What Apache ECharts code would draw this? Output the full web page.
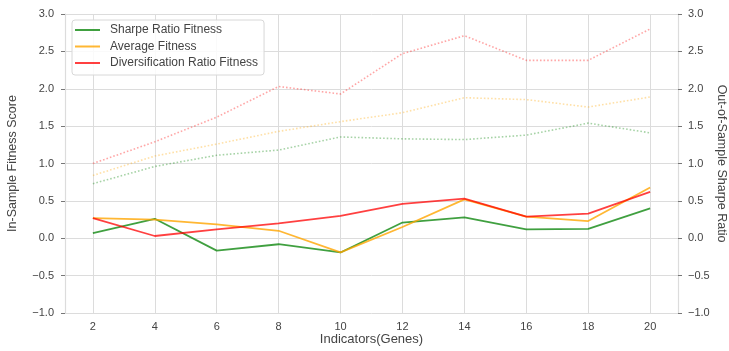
<!DOCTYPE html>
<html>
<head>
<meta charset="utf-8">
<script src="https://cdn.jsdelivr.net/npm/echarts@6/dist/echarts.min.js"></script>
<style>
html,body{margin:0;padding:0;background:#fff;}
#c{width:729px;height:351px;}
</style>
</head>
<body>
<div id="c"></div>
<script>
const genes = [2, 4, 6, 8, 10, 12, 14, 16, 18, 20];
const yTicks = [-1.0, -0.5, 0.0, 0.5, 1.0, 1.5, 2.0, 2.5, 3.0];

const sharpeIn = [0.07, 0.26, -0.165, -0.08, -0.19, 0.21, 0.28, 0.12, 0.125, 0.40];
const averageIn = [0.27, 0.25, 0.185, 0.10, -0.19, 0.15, 0.52, 0.29, 0.23, 0.68];
const diverIn = [0.27, 0.03, 0.12, 0.20, 0.30, 0.46, 0.53, 0.29, 0.33, 0.62];

const sharpeOut = [0.73, 0.96, 1.11, 1.18, 1.355, 1.33, 1.32, 1.38, 1.54, 1.41];
const averageOut = [0.84, 1.10, 1.26, 1.43, 1.56, 1.68, 1.88, 1.855, 1.755, 1.89];
const diverOut = [1.00, 1.29, 1.62, 2.03, 1.93, 2.47, 2.71, 2.38, 2.38, 2.80];

const GREEN = 'rgba(0,128,0,0.75)';
const ORANGE = 'rgba(255,165,0,0.8)';
const RED = 'rgba(255,0,0,0.75)';
const GREEN_D = 'rgba(0,128,0,0.35)';
const ORANGE_D = 'rgba(255,165,0,0.35)';
const RED_D = 'rgba(255,0,0,0.35)';

const FONT = '"Liberation Sans", Arial, sans-serif';
const TXT = '#444';
const GRID = '#dcdcdc';

function pairs(ys){ return genes.map((g,i)=>[g, ys[i]]); }
function fmt(v){ const s = Math.abs(v).toFixed(1); return v < 0 ? '\u2212' + s : s; }

function yAxisDef(pos, name, showSplit){
  return {
    type: 'value', position: pos, min: -1, max: 3, interval: 0.5,
    name: name, nameLocation: 'middle', nameRotate: pos === 'left' ? 90 : -90,
    nameGap: pos === 'left' ? 46 : 37,
    nameMoveOverlap: pos === 'left',
    nameTextStyle: {fontFamily: FONT, fontSize: 12.5, color: TXT},
    axisLine: {show: true, lineStyle: {color: GRID, width: 1.2}},
    axisTick: {show: true, length: 4, lineStyle: {color: '#777', width: 1}},
    axisLabel: {fontFamily: FONT, fontSize: 11, color: TXT, margin: pos === 'left' ? 11 : 10, formatter: fmt},
    splitLine: {show: showSplit, lineStyle: {color: GRID, width: 1}}
  };
}

const chart = echarts.init(document.getElementById('c'), null, {renderer: 'canvas'});
const lineS = (name, data, color, yIdx, dotted) => ({
  name: name, type: 'line', data: pairs(data), yAxisIndex: yIdx,
  symbol: 'none', showSymbol: false, smooth: false,
  lineStyle: {color: color, width: dotted ? 1.6 : 1.8, type: dotted ? [1.6, 2] : 'solid'},
  itemStyle: {color: color}, z: dotted ? 2 : 3, animation: false
});

chart.setOption({
  animation: false,
  backgroundColor: '#fff',
  grid: {left: 65, right: 51, top: 14, bottom: 38, containLabel: false, outerBoundsMode: 'none'},
  legend: {
    data: ['Sharpe Ratio Fitness', 'Average Fitness', 'Diversification Ratio Fitness'],
    orient: 'vertical', left: 72, top: 20,
    icon: 'rect',
    padding: [3, 6, 5, 3], itemGap: 2.5, itemWidth: 25, itemHeight: 2,
    borderColor: '#d8d8d8', borderWidth: 1, borderRadius: 3, backgroundColor: 'rgba(255,255,255,0.85)',
    textStyle: {fontFamily: FONT, fontSize: 12, color: TXT, lineHeight: 14, padding: [0, 0, 0, 5]}
  },
  xAxis: {
    type: 'value', min: 1.1, max: 20.9,
    name: 'Indicators(Genes)', nameLocation: 'middle', nameGap: 20, nameMoveOverlap: false,
    nameTextStyle: {fontFamily: FONT, fontSize: 13, color: TXT},
    axisLine: {show: true, lineStyle: {color: GRID, width: 1.2}},
    axisTick: {show: false, customValues: genes},
    axisLabel: {fontFamily: FONT, fontSize: 11, color: TXT, margin: 8, customValues: genes},
    splitLine: {show: true, lineStyle: {color: GRID, width: 1}}
  },
  yAxis: [yAxisDef('left', 'In-Sample Fitness Score', true), yAxisDef('right', 'Out-of-Sample Sharpe Ratio', false)],
  series: [
    lineS('Sharpe Ratio Fitness', sharpeIn, GREEN, 0, false),
    lineS('Average Fitness', averageIn, ORANGE, 0, false),
    lineS('Diversification Ratio Fitness', diverIn, RED, 0, false),
    lineS('Sharpe Ratio OOS', sharpeOut, GREEN_D, 1, true),
    lineS('Average OOS', averageOut, ORANGE_D, 1, true),
    lineS('Diversification Ratio OOS', diverOut, RED_D, 1, true)
  ]
});
</script>
</body>
</html>
